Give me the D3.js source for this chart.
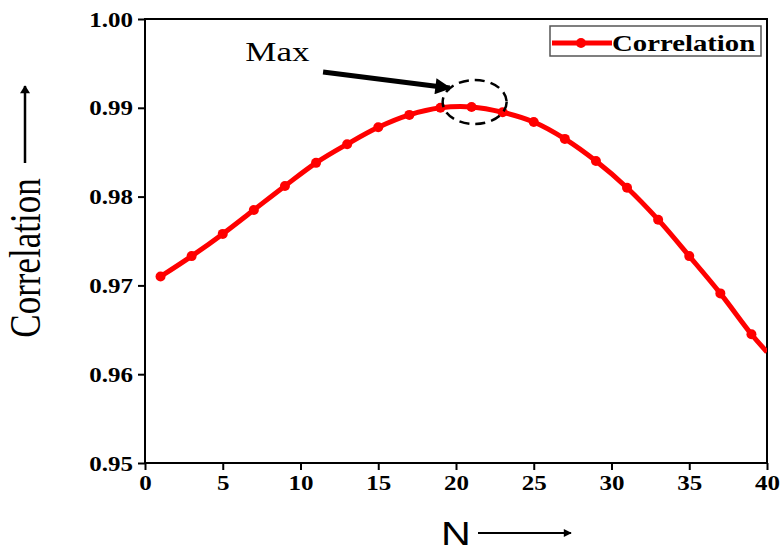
<!DOCTYPE html>
<html>
<head>
<meta charset="utf-8">
<script src="https://cdn.jsdelivr.net/npm/d3@7"></script>
<style>
  body { margin: 0; background: #fff; }
  text { fill: #000; }
</style>
</head>
<body>
<div id="container"></div>
<script>
/* CONSTANTS AND GLOBALS */
const width = 781,
  height = 553,
  margin = { top: 19, right: 14, bottom: 90, left: 145 };
const stretch = 1.25; // the picture's text is wide

/* DATA */
const nValues = [1, 3, 5, 7, 9, 11, 13, 15, 17, 19, 21, 23, 25, 27, 29, 31, 33, 35, 37, 39, 40];
const corrValues = [0.9710, 0.9733, 0.9758, 0.9785, 0.9812, 0.9838, 0.9859, 0.9878, 0.9892, 0.9900,
  0.9901, 0.9895, 0.9884, 0.9865, 0.9840, 0.9810, 0.9774, 0.9733, 0.9691, 0.9645, 0.9625];
const xTicks = [0, 5, 10, 15, 20, 25, 30, 35, 40];
const yTicks = [0.95, 0.96, 0.97, 0.98, 0.99, 1.00];
const seriesName = "Correlation";

const data = nValues.map((n, i) => ({ n: n, v: corrValues[i] }));

const svg = d3.select("#container")
  .append("svg")
  .attr("width", width)
  .attr("height", height)
  .style("font-family", "'Liberation Serif', 'Times New Roman', serif");

/* SCALES */
const xScale = d3.scaleLinear()
  .domain([0, 40])
  .range([margin.left, width - margin.right]);

const yScale = d3.scaleLinear()
  .domain([0.95, 1.00])
  .range([height - margin.bottom, margin.top]);

// widen a text horizontally around its own anchor
function widen(sel) {
  sel.each(function () {
    const t = d3.select(this);
    const w = this.getComputedTextLength();
    t.attr("textLength", w * stretch).attr("lengthAdjust", "spacingAndGlyphs");
  });
}

/* AXES */
const xAxis = svg.append("g")
  .attr("transform", `translate(0, ${height - margin.bottom})`)
  .call(d3.axisBottom(xScale).tickValues(xTicks).tickSize(7).tickSizeOuter(0).tickPadding(6));

const yAxis = svg.append("g")
  .attr("transform", `translate(${margin.left}, 0)`)
  .call(d3.axisLeft(yScale).tickValues(yTicks).tickFormat(d3.format(".2f")).tickSize(7).tickSizeOuter(0).tickPadding(5));

[xAxis, yAxis].forEach(ax => {
  ax.select(".domain").remove();
  ax.selectAll("line").attr("stroke", "#000").attr("stroke-width", 2);
  ax.selectAll("text")
    .style("font-family", "'Liberation Serif', serif")
    .style("font-weight", "bold")
    .style("font-size", "20px")
    .call(widen);
});
yAxis.selectAll("text").attr("dy", "0.35em");

// frame
svg.append("rect")
  .attr("x", xScale(0))
  .attr("y", yScale(1.00))
  .attr("width", xScale(40) - xScale(0))
  .attr("height", yScale(0.95) - yScale(1.00))
  .attr("fill", "none")
  .attr("stroke", "#000")
  .attr("stroke-width", 2);

/* SERIES */
svg.append("clipPath").attr("id", "plot")
  .append("rect")
  .attr("x", xScale(0)).attr("y", yScale(1.00))
  .attr("width", xScale(40) - xScale(0))
  .attr("height", yScale(0.95) - yScale(1.00));

const line = d3.line()
  .x(d => xScale(d.n))
  .y(d => yScale(d.v))
  .curve(d3.curveCatmullRom);

svg.append("path")
  .datum(data)
  .attr("clip-path", "url(#plot)")
  .attr("d", line)
  .attr("fill", "none")
  .attr("stroke", "#ff0000")
  .attr("stroke-width", 5);

svg.selectAll(".dot")
  .data(data.filter(d => d.n % 2 === 1))
  .join("circle")
  .attr("class", "dot")
  .attr("cx", d => xScale(d.n))
  .attr("cy", d => yScale(d.v))
  .attr("r", 5)
  .attr("fill", "#ff0000");

/* ANNOTATION */
const defs = svg.append("defs");
defs.append("marker")
  .attr("id", "head")
  .attr("viewBox", "0 0 10 10")
  .attr("refX", 9).attr("refY", 5)
  .attr("markerWidth", 4.4).attr("markerHeight", 3.2)
  .attr("markerUnits", "strokeWidth")
  .attr("orient", "auto")
  .append("path").attr("d", "M0,0 L10,5 L0,10 Z").attr("fill", "#000");
defs.append("marker")
  .attr("id", "thin")
  .attr("viewBox", "0 0 10 10")
  .attr("refX", 9).attr("refY", 5)
  .attr("markerWidth", 6).attr("markerHeight", 4)
  .attr("markerUnits", "strokeWidth")
  .attr("orient", "auto")
  .append("path").attr("d", "M0,0 L10,5 L0,10 Z").attr("fill", "#000");

svg.append("ellipse")
  .attr("cx", xScale(21.2))
  .attr("cy", yScale(0.99065))
  .attr("rx", 32)
  .attr("ry", 22)
  .attr("fill", "none")
  .attr("stroke", "#000")
  .attr("stroke-width", 2.5)
  .attr("stroke-dasharray", "10,6");

svg.append("line")
  .attr("x1", xScale(11.45)).attr("y1", yScale(0.99403))
  .attr("x2", xScale(19.6)).attr("y2", yScale(0.99223))
  .attr("stroke", "#000")
  .attr("stroke-width", 5)
  .attr("marker-end", "url(#head)");

svg.append("text")
  .attr("x", xScale(6.45))
  .attr("y", yScale(0.99523))
  .style("font-size", "28px")
  .text("Max")
  .call(widen);

/* LEGEND */
const legend = svg.append("g").attr("transform", "translate(550, 26)");
legend.append("rect")
  .attr("width", 211).attr("height", 30)
  .attr("fill", "#fff")
  .attr("stroke", "#555")
  .attr("stroke-width", 1.5);
legend.append("line")
  .attr("x1", 2).attr("x2", 62).attr("y1", 17).attr("y2", 17)
  .attr("stroke", "#ff0000").attr("stroke-width", 5);
legend.append("circle")
  .attr("cx", 31).attr("cy", 17).attr("r", 5).attr("fill", "#ff0000");
legend.append("text")
  .attr("x", 62).attr("y", 25)
  .style("font-weight", "bold")
  .style("font-size", "23px")
  .text(seriesName)
  .call(widen);

/* AXIS TITLES */
const yTitle = svg.append("g")
  .attr("transform", `translate(40, 258) scale(${stretch}, 1) rotate(-90)`);
yTitle.append("text")
  .attr("text-anchor", "middle")
  .attr("x", 0).attr("y", 0)
  .style("font-size", "35px")
  .text(seriesName);
yTitle.append("line")
  .attr("x1", 95).attr("x2", 172)
  .attr("y1", -12).attr("y2", -12)
  .attr("stroke", "#000").attr("stroke-width", 2)
  .attr("marker-end", "url(#thin)");

const xTitle = svg.append("g")
  .attr("transform", "translate(456, 545)");
xTitle.append("text")
  .attr("text-anchor", "middle")
  .style("font-family", "'Liberation Sans', Arial, sans-serif")
  .style("font-size", "33px")
  .text("N")
  .call(widen);
xTitle.append("line")
  .attr("x1", 22).attr("x2", 115)
  .attr("y1", -12).attr("y2", -12)
  .attr("stroke", "#000").attr("stroke-width", 2)
  .attr("marker-end", "url(#thin)");
</script>
</body>
</html>
